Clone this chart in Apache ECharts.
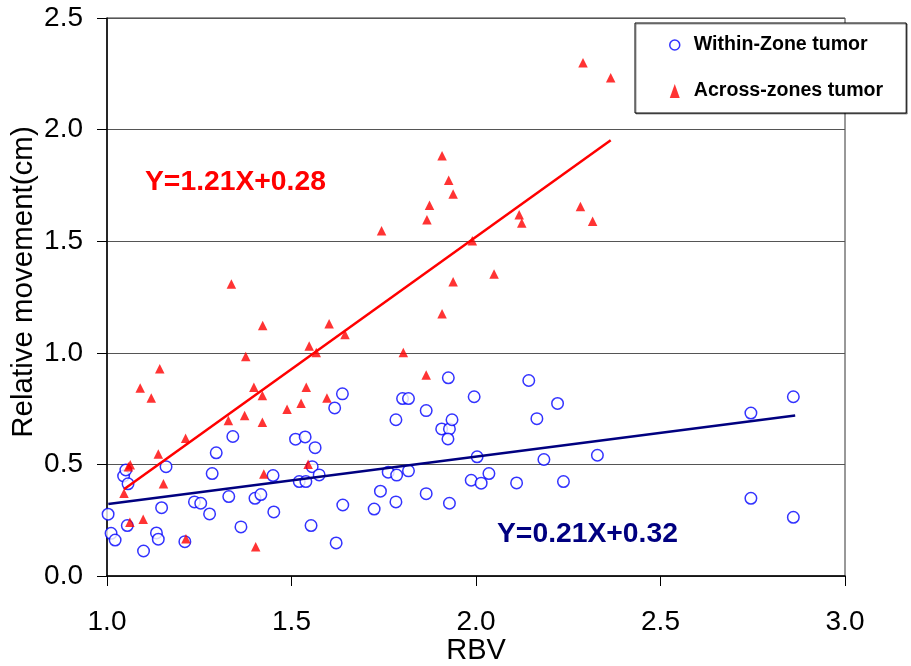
<!DOCTYPE html>
<html>
<head>
<meta charset="utf-8">
<script src="https://cdn.jsdelivr.net/npm/echarts@6/dist/echarts.min.js"></script>
<style>html,body{margin:0;padding:0;background:#fff;}#c{width:911px;height:666px;}</style>
</head>
<body>
<div id="c"></div>
<script>
// ---- data ----
var withinZone = [
  [1.003,0.277],[1.011,0.191],[1.022,0.161],[1.045,0.448],[1.051,0.475],[1.057,0.413],
  [1.055,0.226],[1.099,0.112],[1.134,0.193],[1.139,0.165],[1.148,0.306],[1.160,0.490],
  [1.211,0.154],[1.237,0.332],[1.254,0.326],[1.278,0.278],[1.285,0.459],[1.296,0.552],
  [1.330,0.356],[1.341,0.625],[1.363,0.220],[1.401,0.348],[1.417,0.365],[1.450,0.450],
  [1.452,0.287],[1.511,0.613],[1.521,0.423],[1.537,0.623],[1.539,0.423],[1.553,0.226],
  [1.556,0.490],[1.564,0.575],[1.575,0.453],[1.617,0.753],[1.621,0.148],[1.638,0.816],
  [1.639,0.318],[1.724,0.300],[1.741,0.380],[1.762,0.465],[1.783,0.700],[1.783,0.332],
  [1.785,0.452],[1.801,0.795],[1.817,0.795],[1.817,0.471],[1.865,0.741],[1.865,0.369],
  [1.907,0.659],[1.928,0.659],[1.924,0.614],[1.935,0.700],[1.925,0.888],[1.928,0.326],
  [1.987,0.429],[1.995,0.803],[2.003,0.534],[2.014,0.416],[2.035,0.459],[2.110,0.417],
  [2.143,0.876],[2.165,0.705],[2.184,0.522],[2.221,0.773],[2.237,0.423],[2.329,0.541],
  [2.745,0.730],[2.745,0.348],[2.860,0.803],[2.860,0.263]
];
var acrossZones = [
  [1.046,0.371],[1.058,0.490],[1.063,0.498],[1.062,0.241],[1.090,0.842],[1.098,0.254],
  [1.120,0.797],[1.139,0.547],[1.143,0.928],[1.153,0.413],[1.213,0.617],[1.214,0.167],
  [1.329,0.697],[1.337,1.308],[1.373,0.719],[1.376,0.983],[1.398,0.846],[1.403,0.131],
  [1.421,0.809],[1.421,0.689],[1.422,1.122],[1.425,0.457],[1.488,0.747],[1.526,0.774],
  [1.540,0.846],[1.545,0.501],[1.548,1.031],[1.567,1.001],[1.596,0.797],[1.602,1.130],
  [1.645,1.082],[1.744,1.547],[1.803,1.001],[1.865,0.900],[1.867,1.596],[1.874,1.661],
  [1.908,1.883],[1.908,1.175],[1.926,1.773],[1.938,1.712],[1.938,1.318],[1.990,1.502],
  [2.049,1.353],[2.117,1.619],[2.124,1.581],[2.283,1.656],[2.290,2.299],[2.316,1.589],
  [2.365,2.232]
];
var fitAcross = [[1.046,0.389],[2.365,1.952]];
var fitWithin = [[1.0035,0.323],[2.865,0.719]];
var seriesNames = ['Within-Zone tumor','Across-zones tumor'];
var equations = ['Y=1.21X+0.28','Y=0.21X+0.32'];
var xTicks = {min:1.0, max:3.0, step:0.5};
var yTicks = {min:0.0, max:2.5, step:0.5};

var FONT = "'Liberation Sans', Arial, sans-serif";
var chart = echarts.init(document.getElementById('c'), null, {renderer:'canvas'});
chart.setOption({
  backgroundColor:'#fff',
  animation:false,
  grid:{left:107, right:66, top:18, bottom:90, containLabel:false, outerBoundsMode:'none',
        show:true, borderColor:'#333', borderWidth:1, backgroundColor:'transparent'},
  xAxis:{
    type:'value', min:xTicks.min, max:xTicks.max, interval:xTicks.step,
    name:'RBV', nameLocation:'middle', nameGap:60, nameMoveOverlap:false,
    nameTextStyle:{fontFamily:FONT, fontSize:29, color:'#000'},
    axisLine:{show:true, lineStyle:{color:'#000', width:1.5}},
    axisTick:{show:true, inside:false, length:10, lineStyle:{color:'#000'}},
    axisLabel:{margin:32, fontFamily:FONT, fontSize:28, color:'#000', formatter:function(v){return v.toFixed(1);}},
    splitLine:{show:false}
  },
  yAxis:{
    type:'value', min:yTicks.min, max:yTicks.max, interval:yTicks.step,
    name:'Relative movement(cm)', nameLocation:'middle', nameGap:68, nameMoveOverlap:false,
    nameTextStyle:{fontFamily:FONT, fontSize:29.5, color:'#000', padding:[0,0,0,30]},
    axisLine:{show:true, lineStyle:{color:'#000', width:1.5}},
    axisTick:{show:true, inside:false, length:10, lineStyle:{color:'#000'}},
    axisLabel:{margin:24, fontFamily:FONT, fontSize:28, color:'#000', formatter:function(v){return v.toFixed(1);}},
    splitLine:{show:true, lineStyle:{color:'#555', width:1}}
  },
  legend:{
    orient:'vertical', left:635, top:23,
    padding:[12,23,12,34], itemGap:26, itemWidth:10, itemHeight:14,
    backgroundColor:'#fff', borderColor:'#000', borderWidth:1,
    shadowColor:'rgba(0,0,0,0.4)', shadowOffsetX:1, shadowOffsetY:1, shadowBlur:0,
    textStyle:{fontFamily:FONT, fontWeight:'bold', fontSize:19.6, color:'#000', padding:[0,0,0,9]},
    data:[
      {name:seriesNames[0], icon:'circle', itemStyle:{color:'#fff', borderColor:'#0000ff', borderWidth:1.5}},
      {name:seriesNames[1], icon:'triangle', itemStyle:{color:'#ff0000'}}
    ]
  },
  series:[
    {name:seriesNames[0], type:'scatter', data:withinZone, symbol:'circle', symbolSize:11.5,
     itemStyle:{color:'#fff', borderColor:'#0000ff', borderWidth:1.5}, z:3},
    {name:seriesNames[1], type:'scatter', data:acrossZones, symbol:'triangle', symbolSize:9.5,
     itemStyle:{color:'#ff0000'}, z:4},
    {name:'fitA', type:'line', data:fitAcross, symbol:'none', lineStyle:{color:'#ff0000', width:2.5}, z:5, silent:true},
    {name:'fitW', type:'line', data:fitWithin, symbol:'none', lineStyle:{color:'#000080', width:2.5}, z:5, silent:true}
  ],
  graphic:[
    {type:'text', left:145, top:168, style:{text:equations[0], fill:'#ff0000', font:"bold 28.3px "+FONT}, z:10},
    {type:'text', left:497, top:520, style:{text:equations[1], fill:'#000080', font:"bold 28.3px "+FONT}, z:10}
  ]
});
</script>
</body>
</html>
